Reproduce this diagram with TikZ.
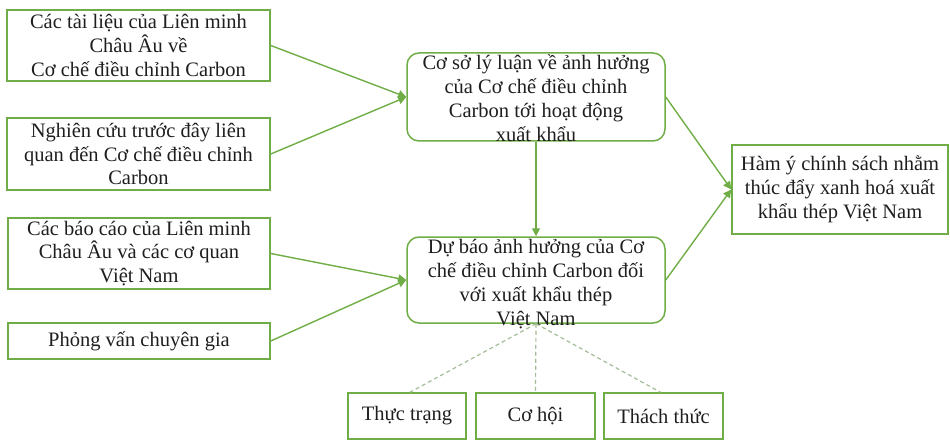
\documentclass[tikz,border=0pt]{standalone}
\usepackage{fontspec}
\setmainfont{Liberation Serif}
\usetikzlibrary{arrows.meta}
\definecolor{gline}{HTML}{70AD47}
\definecolor{dline}{HTML}{A3BC98}
\definecolor{txtc}{HTML}{1E1E1E}
\begin{document}
\begin{tikzpicture}[x=1pt,y=-1pt,
  tfont/.style={font=\fontsize{20.5}{23.8}\selectfont, text=txtc},
  box/.style={draw=gline, line width=1.5pt, inner sep=0pt, align=center, tfont},
  rbox/.style={box, rounded corners=12pt},
  txt/.style={inner sep=0pt, align=center, tfont},
  arr/.style={draw=gline, line width=1.4pt, -{Triangle[length=8pt,width=8pt]}},
  dsh/.style={draw=dline, line width=1.2pt, dash pattern=on 4pt off 3pt}]
\useasboundingbox (0,0) rectangle (950,441);

% left boxes
\node[box, minimum width=263pt, minimum height=71pt] (a1) at (138.5,45.5)
  {Các tài liệu của Liên minh\\Châu Âu về\\Cơ chế điều chỉnh Carbon};
\node[box, minimum width=263pt, minimum height=72pt] (a2) at (138.5,154)
  {Nghiên cứu trước đây liên\\quan đến Cơ chế điều chỉnh\\Carbon};
\node[box, minimum width=262pt, minimum height=71pt] (a3) at (139,253.5)
  {Các báo cáo của Liên minh\\Châu Âu và các cơ quan\\Việt Nam};
\node[box, minimum width=262pt, minimum height=36pt] (a4) at (139,341)
  {Phỏng vấn chuyên gia};

% middle boxes
\node[rbox, minimum width=258pt, minimum height=88pt] (m1) at (536,97) {};
\node[txt] (m1t) at (536,98)
  {Cơ sở lý luận về ảnh hưởng\\của Cơ chế điều chỉnh\\Carbon tới hoạt động\\xuất khẩu};
\node[rbox, minimum width=258pt, minimum height=86pt] (m2) at (536,280) {};
\node[txt] (m2t) at (536,284)
  {Dự báo ảnh hưởng của Cơ\\chế điều chỉnh Carbon đối\\với xuất khẩu thép\\Việt Nam};

% right box
\node[box, minimum width=216pt, minimum height=89pt] (r) at (840,189.5)
  {Hàm ý chính sách nhằm\\thúc đẩy xanh hoá xuất\\khẩu thép Việt Nam};

% bottom boxes
\node[box, minimum width=118pt, minimum height=46pt] (b1) at (407,416) {Thực trạng};
\node[box, minimum width=119pt, minimum height=46pt] (b2) at (535.5,416) {Cơ hội};
\node[box, minimum width=119pt, minimum height=46pt] (b3) at (663.5,416) {Thách thức};

% connectors
\draw[arr] (a1.east) -- (m1.west);
\draw[arr] (a2.east) -- (m1.west);
\draw[arr] (a3.east) -- (m2.west);
\draw[arr] (a4.east) -- (m2.west);
\draw[arr] (m1.south) -- (m2.north);
\draw[arr] (m1.east) -- (r.west);
\draw[arr] (m2.east) -- (r.west);

\draw[dsh] (m2.south) -- ([xshift=3pt]b1.north);
\draw[dsh] (m2.south) -- (b2.north);
\draw[dsh] (m2.south) -- ([xshift=-3pt]b3.north);
\end{tikzpicture}
\end{document}
